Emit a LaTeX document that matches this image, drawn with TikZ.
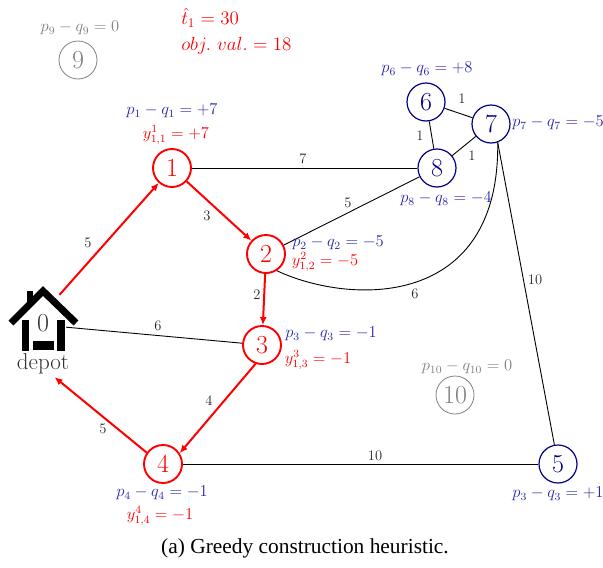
\documentclass[tikz,border=0pt]{standalone}
\usepackage{fontspec}
\newfontfamily\capfont{Liberation Serif}
\usetikzlibrary{arrows.meta}
\definecolor{navyc}{RGB}{0,0,128}
\definecolor{lblue}{RGB}{40,40,170}
\newcommand{\fs}[1]{\fontsize{#1}{#1}\selectfont}
\tikzset{
  x=1pt,y=-1pt,
  vred/.style={circle,draw=red,line width=1.9pt,text=red,minimum size=38pt,inner sep=0pt,font=\fs{26}},
  vblue/.style={circle,draw=navyc,line width=1.2pt,text=navyc,minimum size=38pt,inner sep=0pt,font=\fs{26}},
  vgray/.style={circle,draw=gray,line width=0.8pt,text=gray,minimum size=38pt,inner sep=0pt,font=\fs{26}},
  bl/.style={text=lblue,font=\large,inner sep=0pt,scale=1.38},
  rl/.style={text=red,font=\large,inner sep=0pt,scale=1.38},
  gl/.style={text=gray,font=\large,inner sep=0pt,scale=1.38},
  hl/.style={text=red,font=\Large,inner sep=0pt,scale=1.32,anchor=west},
  el/.style={text=black!85,font=\fs{14.5},inner sep=0pt},
  redge/.style={draw=red,line width=2pt,-{Latex[length=8pt,width=7pt]}},
  bedge/.style={draw=black,line width=0.9pt},
  roof/.style={line width=7pt,line cap=butt},
}
\begin{document}
\begin{tikzpicture}
\useasboundingbox (0,0) rectangle (603,568);
% depot
\fill[black] (27,291) rectangle (33,302);
\draw[roof,line join=miter] (11,323) -- (43,291) -- (76,323);
\fill[black] (22,320) rectangle (29,351);
\fill[black] (57,320) rectangle (65,351);
\fill[black] (33,341) rectangle (54,350);
\node[minimum width=48pt,minimum height=82pt,inner sep=0pt] (dep) at (42,336) {};
\node[font=\fs{26},text=black!80,inner sep=0pt] (zero) at (43,323) {0};
\node[font=\fs{23},text=black!80,inner sep=0pt] (deplab) at (43,364) {depot};
% vertices
\node[vred] (n1) at (172,168) {1};
\node[vred] (n2) at (266,254) {2};
\node[vred] (n3) at (262,345) {3};
\node[vred] (n4) at (163,464) {4};
\node[vblue] (n5) at (558,464) {5};
\node[vblue] (n6) at (426,102) {6};
\node[vblue] (n7) at (491,124) {7};
\node[vblue] (n8) at (437,168) {8};
\node[vgray] (n9) at (78,60) {9};
\node[vgray] (n10) at (455,395) {10};
% black edges
\draw[bedge] (n1) -- (n8);
\draw[bedge] (n2) -- (n8);
\draw[bedge] (dep.20) -- (n3);
\draw[bedge] (n4) -- (n5);
\draw[bedge] (n6) -- (n7);
\draw[bedge] (n6) -- (n8);
\draw[bedge] (n7) -- (n8);
\draw[bedge] (n7.-70) -- (n5);
\draw[bedge] (n2.-57) .. controls (350,305) and (500,310) .. (n7.-70);
% red edges
\draw[redge] (dep.67.7) -- (n1);
\draw[redge] (n1) -- (n2);
\draw[redge] (n2) -- (n3);
\draw[redge] (n3.-109) -- (n4.33);
\draw[redge] (n4.145) -- (dep.-73);
% edge labels
\node[el] (e1) at (88,243) {5};
\node[el] (e2) at (207,216) {3};
\node[el] (e3) at (303,159) {7};
\node[el] (e4) at (348,203) {5};
\node[el] (e5) at (257,295) {2};
\node[el] (e6) at (158,326) {6};
\node[el] (e7) at (415,294) {6};
\node[el] (e8) at (209,401) {4};
\node[el] (e9) at (103,429) {5};
\node[el] (e10) at (375,456) {10};
\node[el] (e11) at (535,280) {10};
\node[el] (e12) at (462,99) {1};
\node[el] (e13) at (420,136) {1};
\node[el] (e14) at (472,156) {1};
% vertex labels
\node[gl] (t9) at (80,28) {$p_9-q_9=0$};
\node[gl] (t10) at (467,367) {$p_{10}-q_{10}=0$};
\node[bl] (t1) at (172,111) {$p_1-q_1=+7$};
\node[rl] (u1) at (176,135) {$y^1_{1,1}=+7$};
\node[bl] (t2) at (338,243) {$p_2-q_2=-5$};
\node[rl] (u2) at (325,262) {$y^2_{1,2}=-5$};
\node[bl] (t3) at (331,334) {$p_3-q_3=-1$};
\node[rl] (u3) at (318,360) {$y^3_{1,3}=-1$};
\node[bl] (t4) at (162,493) {$p_4-q_4=-1$};
\node[rl] (u4) at (160,516) {$y^4_{1,4}=-1$};
\node[bl] (t5) at (558,494) {$p_3-q_3=+1$};
\node[bl] (t6) at (427,69) {$p_6-q_6=+8$};
\node[bl] (t7) at (558,123) {$p_7-q_7=-5$};
\node[bl] (t8) at (446,199) {$p_8-q_8=-4$};
\node[hl] (h1) at (181,18) {$\hat t_1=30$};
\node[hl] (h2) at (181,46) {$obj.~val.=18$};
\node[font=\capfont\fs{21.4},inner sep=0pt] (cap) at (305,548) {(a) Greedy construction heuristic.};
\end{tikzpicture}
\end{document}
